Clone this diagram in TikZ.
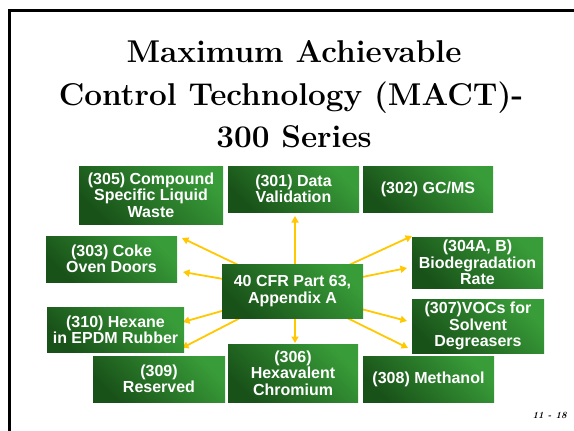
\documentclass[tikz,border=0pt]{standalone}
\usepackage{fontspec}
\newfontfamily\boxfont{Liberation Sans}
\usetikzlibrary{arrows.meta,backgrounds}
\definecolor{gdark}{RGB}{25,82,25}
\definecolor{glight}{RGB}{56,156,56}
\definecolor{arr}{RGB}{255,200,0}
\tikzset{
  gbox/.style={rectangle, inner sep=0pt, outer sep=0pt,
    top color=glight, bottom color=gdark, shading angle=-45,
    text=white, align=center,
    font=\boxfont\bfseries\fontsize{16}{16.3}\selectfont},
  ray/.style={draw=arr, line width=1.8pt, -{Triangle[length=6.5pt,width=7pt]}},
  ttl/.style={anchor=base, inner sep=0pt, font=\bfseries\fontsize{31.5}{42}\selectfont},
}
\begin{document}
\begin{tikzpicture}[x=1pt,y=-1pt]
\useasboundingbox (0,0) rectangle (574,431);
% frame
\draw[line width=3.3pt] (9.7,431) -- (9.7,10.6) -- (574,10.6);
% title
\node[ttl] (t1) at (294,63) {Maximum Achievable};
\node[ttl] (t2) at (291,105) {Control Technology (MACT)-};
\node[ttl] (t3) at (294,147) {300 Series};
% boxes
\node[gbox, minimum width=144pt, minimum height=58pt] (b305) at (151,195) {(305) Compound\\Specific Liquid\\Waste};
\node[gbox, minimum width=131pt, minimum height=46pt] (b301) at (293.5,189) {(301) Data\\Validation};
\node[gbox, minimum width=130pt, minimum height=46pt] (b302) at (428,189) {(302) GC/MS};
\node[gbox, minimum width=131pt, minimum height=46pt] (b303) at (111.5,259) {(303) Coke\\Oven Doors};
\node[gbox, minimum width=131pt, minimum height=51pt] (b304) at (477.5,262.5) {(304A, B)\\Biodegradation\\Rate};
\node[gbox, minimum width=141pt, minimum height=54pt] (c) at (292.5,291) {40 CFR Part 63,\\Appendix A};
\node[gbox, minimum width=137pt, minimum height=45pt] (b310) at (115.5,329.5) {(310) Hexane\\in EPDM Rubber};
\node[gbox, minimum width=132pt, minimum height=54pt] (b307) at (478,326) {(307)VOCs for\\Solvent\\Degreasers};
\node[gbox, minimum width=132pt, minimum height=46pt] (b309) at (159,379) {(309)\\Reserved};
\node[gbox, minimum width=130pt, minimum height=58pt] (b306) at (293,373) {(306)\\Hexavalent\\Chromium};
\node[gbox, minimum width=131pt, minimum height=46pt] (b308) at (428.5,379) {(308) Methanol};
% arrow tips
\coordinate (a305) at (182,238);
\coordinate (a303) at (183,272);
\coordinate (a301) at (295,216);
\coordinate (a304a) at (412,236);
\coordinate (a304b) at (407,268);
\coordinate (a310a) at (183,322);
\coordinate (a310b) at (182,348);
\coordinate (a306) at (295,343);
\coordinate (a307a) at (407,321);
\coordinate (a307b) at (408,348);
\begin{scope}[on background layer]
\draw[ray] (c.center) -- (a305);
\draw[ray] (c.center) -- (a303);
\draw[ray] (c.center -| a301) -- (a301);
\draw[ray] (c.center) -- (a304a);
\draw[ray] (c.center) -- (a304b);
\draw[ray] (c.center) -- (a310a);
\draw[ray] (c.center) -- (a310b);
\draw[ray] (c.center -| a306) -- (a306);
\draw[ray] (c.center) -- (a307a);
\draw[ray] (c.center) -- (a307b);
\end{scope}
% page number
\node[anchor=base east, inner sep=0pt, font=\bfseries\itshape\fontsize{9.5}{11}\selectfont] (pg) at (567,418) {11 - 18};
\end{tikzpicture}
\end{document}
